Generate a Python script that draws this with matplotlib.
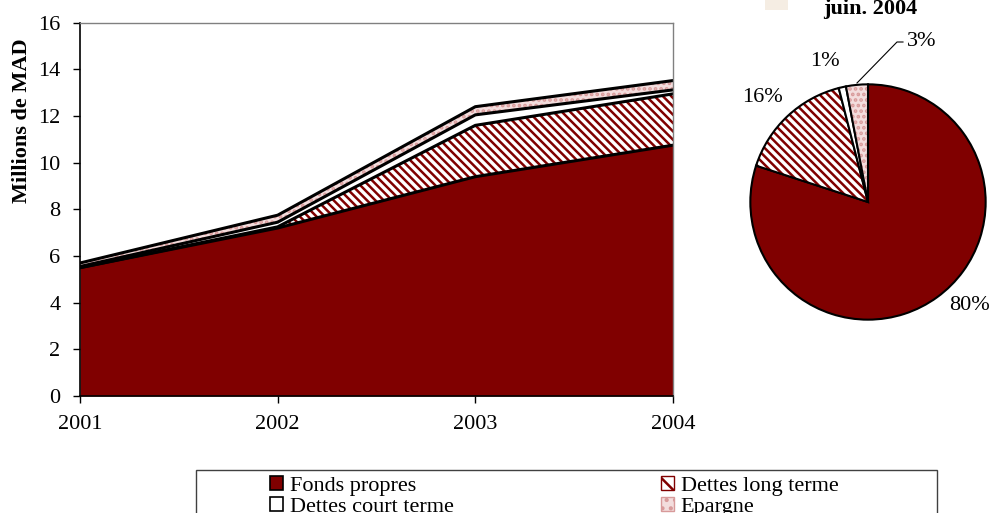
import matplotlib
matplotlib.use("Agg")
import matplotlib.pyplot as plt
from matplotlib.patches import Rectangle, Patch
import numpy as np

plt.rcParams["font.family"] = ["Liberation Serif", "DejaVu Serif"]
plt.rcParams["hatch.linewidth"] = 1.8

# encours en millions de MAD, fin d'annee
annees = [2001, 2002, 2003, 2004]
fonds_propres = [5.5, 7.2, 9.4, 10.75]
dettes_lt = [0.0, 0.05, 2.2, 2.2]
dettes_ct = [0.05, 0.2, 0.45, 0.17]
epargne = [0.15, 0.3, 0.35, 0.4]

# structure du financement a fin juin 2004 (%)
parts_juin = [80, 16, 1, 3]
noms = ["Fonds propres", "Dettes long terme", "Dettes court terme", "Epargne"]

bordeaux = "#800000"
rose = "#f3dddd"
points = "#d89a9a"
rayures = "\\\\\\\\"
W, H = 991, 513
fig = plt.figure(figsize=(W / 100, H / 100), dpi=100)

def px(x0, y0, x1, y1):
    # rectangle en pixels (origine en haut a gauche) -> coordonnees figure
    return [x0 / W, 1 - y1 / H, (x1 - x0) / W, (y1 - y0) / H]

ax = fig.add_axes(px(80, 22.7, 673, 396))

couches = [fonds_propres, dettes_lt, dettes_ct, epargne]
styles = [
    dict(facecolor=bordeaux, edgecolor=bordeaux, hatch=None),
    dict(facecolor="white", edgecolor=bordeaux, hatch=rayures),
    dict(facecolor="white", edgecolor="white", hatch=None),
    dict(facecolor=rose, edgecolor=points, hatch="..."),
]
bas = np.zeros(len(annees))
for valeurs, st in zip(couches, styles):
    haut = bas + np.array(valeurs)
    ax.fill_between(annees, bas, haut, linewidth=0, **st)
    ax.plot(annees, haut, color="black", lw=2.2, solid_joinstyle="miter")
    bas = haut

ax.set_xlim(2001, 2004)
ax.set_ylim(0, 16)
ax.set_xticks(annees)
ax.set_yticks(range(0, 17, 2))
ax.tick_params(labelsize=16, length=5, width=1, direction="out", pad=9)
for s in ["top", "right"]:
    ax.spines[s].set_color("#808080")
    ax.spines[s].set_linewidth(1)
for s in ["left", "bottom"]:
    ax.spines[s].set_linewidth(1.2)
fig.text(22 / W, 1 - 121 / H, "Millions de MAD", rotation=90, fontsize=16,
         fontweight="bold", ha="center", va="center")

# camembert juin 2004
r = 120
axp = fig.add_axes(px(868 - r, 202 - r, 868 + r, 202 + r))
wedges, _ = axp.pie(parts_juin, startangle=90, counterclock=False, radius=1,
                    wedgeprops=dict(linewidth=1.5, edgecolor="black"))
pie_styles = [
    (bordeaux, None, None),
    ("white", rayures, bordeaux),
    ("white", None, None),
    (rose, "...", points),
]
for w, (fc, hatch, hc) in zip(wedges, pie_styles):
    w.set_facecolor(fc)
    if hatch:
        w.set_hatch(hatch)
        w._hatch_color = matplotlib.colors.to_rgba(hc)
axp.set_xlim(-1.02, 1.02)
axp.set_ylim(-1.02, 1.02)
axp.axis("off")

pos_labels = [(970, 306), (762, 98), (825, 62), (922, 42)]
for p, (x, y) in zip(parts_juin, pos_labels):
    fig.text(x / W, 1 - y / H, f"{p}%", fontsize=16, ha="center", va="center")
fig.add_artist(plt.Line2D([857 / W, 897 / W, 903 / W],
                          [1 - 83 / H, 1 - 42 / H, 1 - 42 / H],
                          color="black", lw=0.8))

fig.add_artist(Rectangle((765 / W, 1 - 10 / H), 23 / W, 10 / H,
                         transform=fig.transFigure, facecolor="#f5ede3",
                         edgecolor="none"))
fig.text(870 / W, 1 - 9 / H, "juin. 2004", fontsize=16, fontweight="bold",
         ha="center", va="center")

# legende
fig.add_artist(Rectangle((196 / W, -0.05), (937 - 196) / W, 1.05 - 470 / H,
                         transform=fig.transFigure, facecolor="white",
                         edgecolor="#404040", lw=1))
poignees = [
    Patch(facecolor=bordeaux, edgecolor="black", lw=1.2),
    Patch(facecolor="white", edgecolor="black", lw=1.2),
    Patch(facecolor="white", edgecolor=bordeaux, hatch="\\\\"),
    Patch(facecolor=rose, edgecolor=points, hatch=".."),
]
leg = fig.legend(poignees, [noms[0], noms[2], noms[1], noms[3]], ncol=2,
                 loc="upper left", bbox_to_anchor=(270 / W, 1 - 476 / H),
                 frameon=False, fontsize=16, handlelength=0.6, handleheight=0.6,
                 handletextpad=0.3, labelspacing=0.05, columnspacing=9.3,
                 borderpad=0, borderaxespad=0)

fig.savefig("out.png", dpi=100)
